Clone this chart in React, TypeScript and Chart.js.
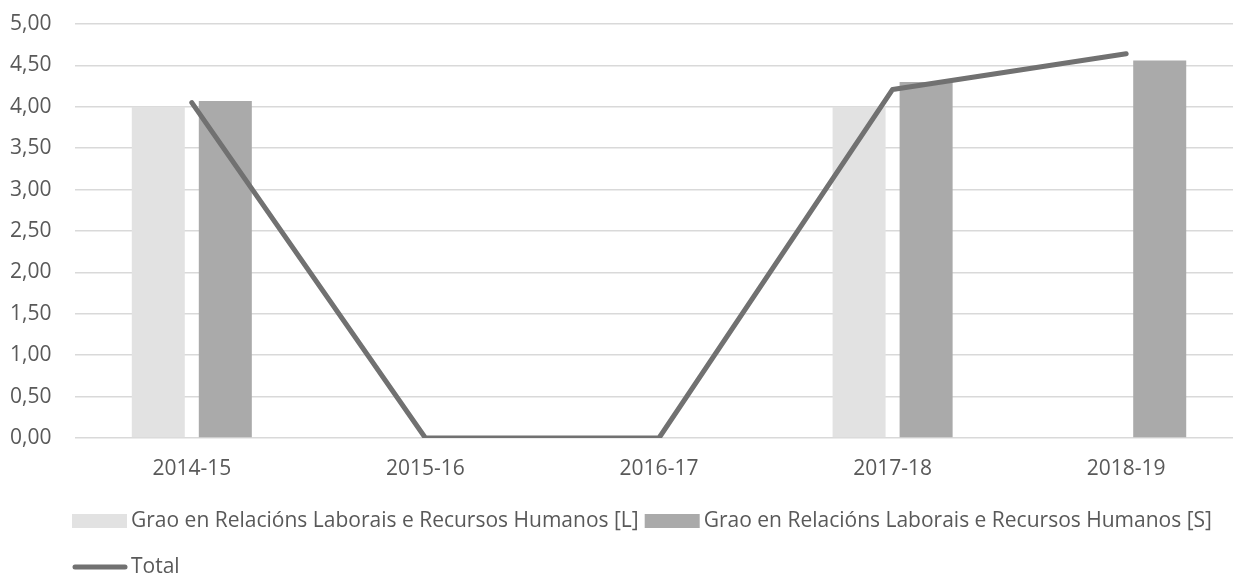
import React, { useEffect, useRef } from "react";
import { Chart, registerables } from "chart.js";

Chart.register(...registerables);

const categories = ["2014-15", "2015-16", "2016-17", "2017-18", "2018-19"];
const seriesL = [4.0, null, null, 4.0, null];
const seriesS = [4.07, null, null, 4.3, 4.56];
const seriesTotal = [4.05, 0, 0, 4.21, 4.64];
const yTicks = [0, 0.5, 1, 1.5, 2, 2.5, 3, 3.5, 4, 4.5, 5];

const labelL = "Grao en Relacións Laborais e Recursos Humanos [L]";
const labelS = "Grao en Relacións Laborais e Recursos Humanos [S]";
const labelTotal = "Total";

const FONT = "'Open Sans', 'Noto Sans', sans-serif";
const FONT_SIZE = 21;
const TEXT_COLOR = "#595959";
const COLOR_L = "#e2e2e2";
const COLOR_S = "#aaaaaa";
const COLOR_TOTAL = "#717171";
const GRID_COLOR = "#d9d9d9";

const legendPlugin = {
  id: "customLegend",
  afterDraw(chart: any) {
    const ctx = chart.ctx as CanvasRenderingContext2D;
    const ds = chart.data.datasets;
    const rows = [
      { y: 521, items: [1, 2] },
      { y: 567, items: [0] },
    ];
    ctx.save();
    ctx.font = `${FONT_SIZE}px ${FONT}`;
    ctx.textBaseline = "middle";
    ctx.textAlign = "left";
    rows.forEach((row) => {
      let x = 72;
      row.items.forEach((i) => {
        const d = ds[i];
        if (d.type === "line") {
          ctx.strokeStyle = d.borderColor;
          ctx.lineWidth = 5;
          ctx.lineCap = "round";
          ctx.beginPath();
          ctx.moveTo(x + 3, row.y);
          ctx.lineTo(x + 53, row.y);
          ctx.stroke();
        } else {
          ctx.fillStyle = d.backgroundColor;
          ctx.fillRect(x, row.y - 7, 55, 14);
        }
        ctx.fillStyle = TEXT_COLOR;
        const tx = x + 59;
        ctx.fillText(d.label, tx, row.y);
        x = tx + ctx.measureText(d.label).width + 6;
      });
    });
    ctx.restore();
  },
};

export default function App() {
  const ref = useRef<HTMLCanvasElement | null>(null);
  useEffect(() => {
    document.body.style.margin = "0";
    const canvas = ref.current;
    if (!canvas) return;
    const chart = new Chart(canvas, {
      type: "bar",
      data: {
        labels: categories,
        datasets: [
          {
            type: "line",
            label: labelTotal,
            data: seriesTotal,
            borderColor: COLOR_TOTAL,
            backgroundColor: COLOR_TOTAL,
            borderWidth: 5,
            borderCapStyle: "round",
            borderJoinStyle: "round",
            pointRadius: 0,
            tension: 0,
            order: 0,
          } as any,
          {
            type: "bar",
            label: labelL,
            data: seriesL,
            backgroundColor: COLOR_L,
            categoryPercentage: 134 / 233.5,
            barPercentage: 53 / 67,
            order: 1,
          },
          {
            type: "bar",
            label: labelS,
            data: seriesS,
            backgroundColor: COLOR_S,
            categoryPercentage: 134 / 233.5,
            barPercentage: 53 / 67,
            order: 2,
          },
        ],
      },
      options: {
        responsive: false,
        animation: false,
        layout: { padding: { top: 24, right: 0, left: 10, bottom: 0 } },
        plugins: {
          legend: { display: false },
          tooltip: { enabled: false },
        },
        scales: {
          x: {
            grid: { display: false },
            border: { display: false },
            ticks: {
              color: TEXT_COLOR,
              font: { family: FONT, size: FONT_SIZE },
              padding: 10,
              maxRotation: 0,
            },
            afterFit: (s: any) => {
              s.height = 138;
            },
          },
          y: {
            min: 0,
            max: 5,
            afterBuildTicks: (s: any) => {
              s.ticks = yTicks.map((v) => ({ value: v }));
            },
            grid: { color: GRID_COLOR, lineWidth: 1.5, drawTicks: false },
            border: { display: false },
            ticks: {
              color: TEXT_COLOR,
              font: { family: FONT, size: FONT_SIZE },
              padding: 0,
              crossAlign: "far",
              callback: (v: any) => Number(v).toFixed(2).replace(".", ","),
            },
            afterFit: (s: any) => {
              s.width = 65;
            },
          },
        },
      },
      plugins: [legendPlugin],
    });
    return () => chart.destroy();
  }, []);
  return (
    <div style={{ width: 1233, height: 576, overflow: "hidden", position: "relative" }}>
      <canvas ref={ref} width={1243} height={576} style={{ display: "block" }} />
    </div>
  );
}
